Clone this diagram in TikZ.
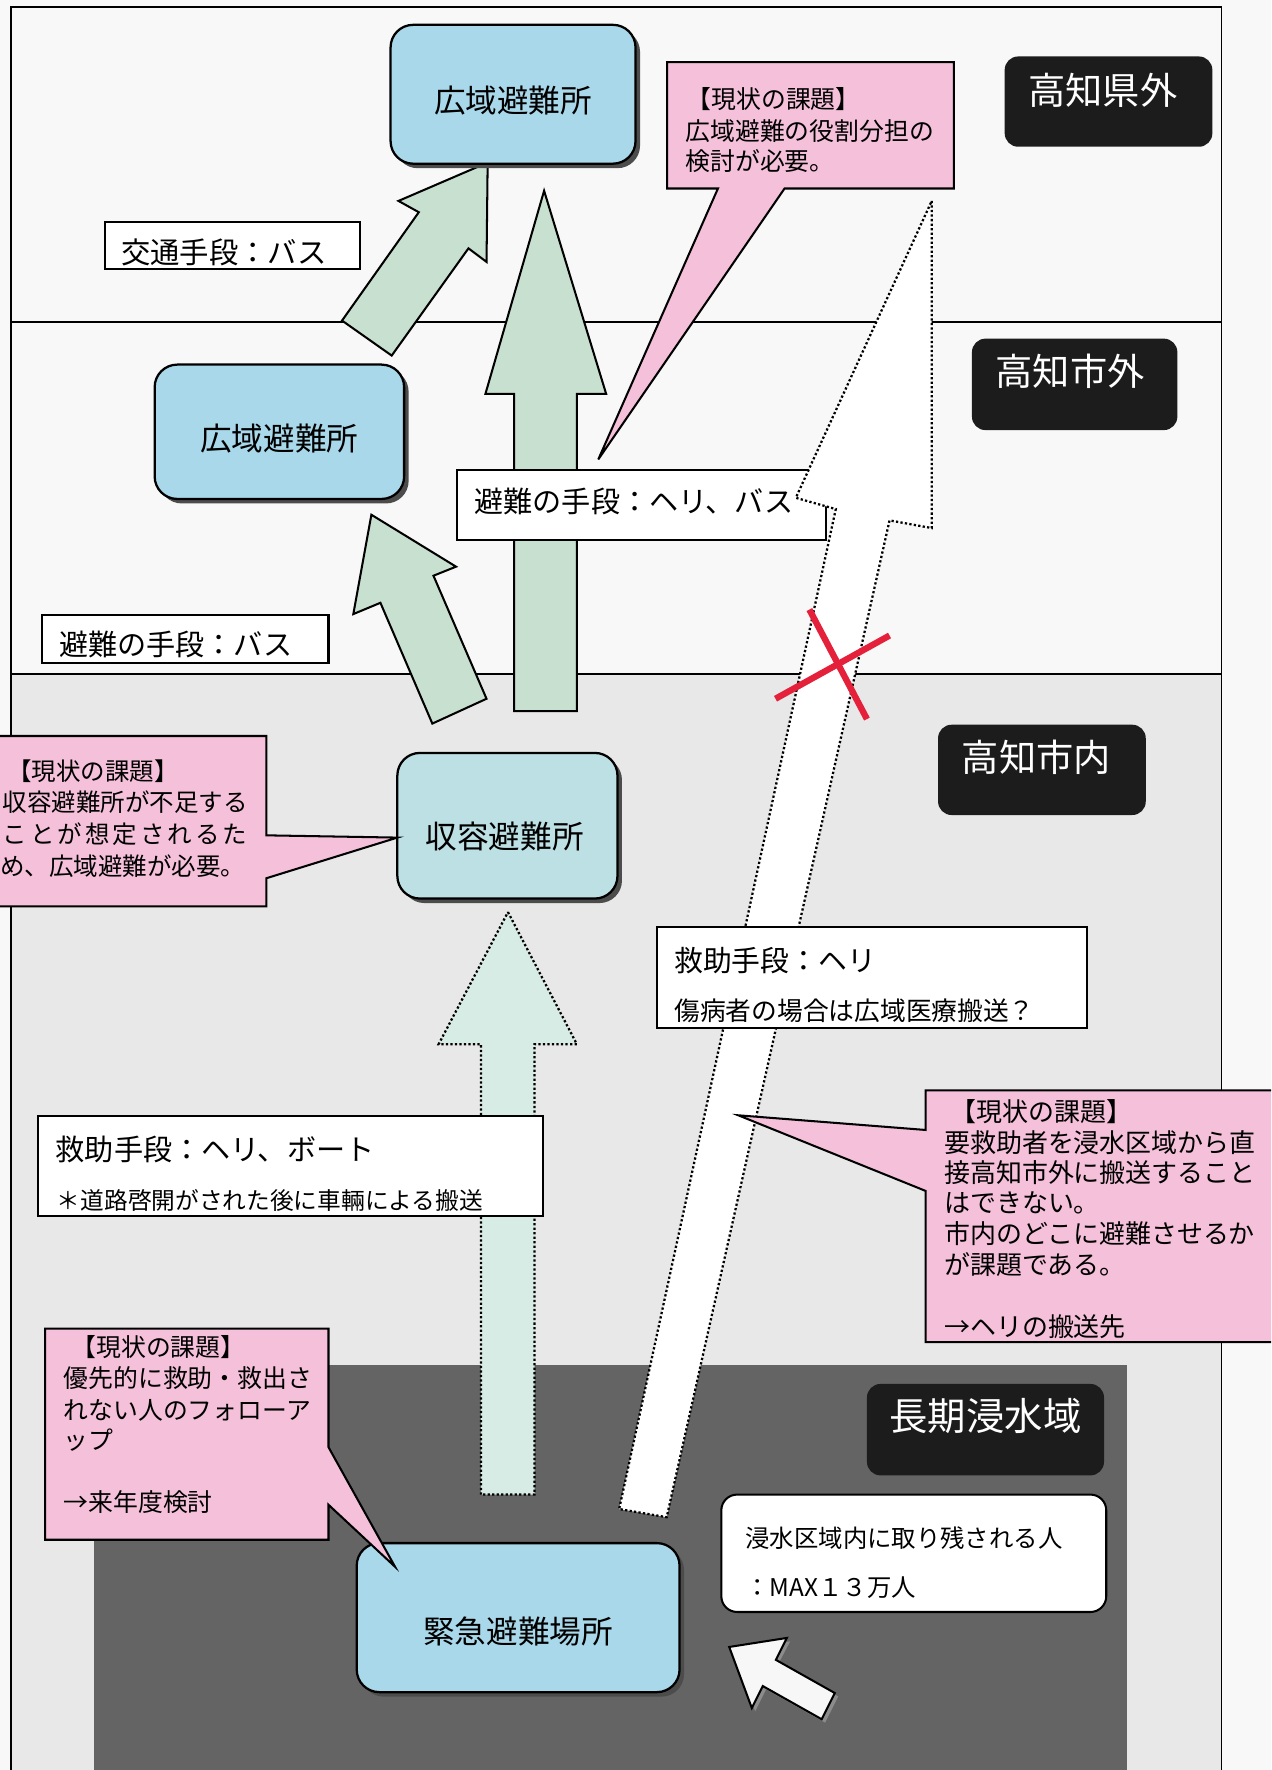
\documentclass[tikz,border=0pt]{standalone}
\usepackage{fontspec}
\setmainfont{Noto Sans CJK JP}
\usetikzlibrary{shadows}
\newcommand{\fsz}[1]{\fontsize{#1pt}{#1pt}\selectfont}
\definecolor{pagebg}{RGB}{248,248,248}
\definecolor{zoneLight}{RGB}{232,232,232}
\definecolor{zoneDark}{RGB}{100,100,100}
\definecolor{boxblue}{RGB}{168,216,234}
\definecolor{boxblueB}{RGB}{188,224,228}
\definecolor{arrowgreen}{RGB}{200,224,208}
\definecolor{dotgreen}{RGB}{214,236,228}
\definecolor{calloutpink}{RGB}{244,192,218}
\definecolor{labelblack}{RGB}{28,28,28}
\definecolor{xred}{RGB}{228,32,58}
\tikzset{
  frameline/.style={draw=black, line width=0.8pt},
  bluebox/.style={draw=black, line width=1pt, fill=boxblue, rounded corners=10pt,
    drop shadow={shadow xshift=2pt, shadow yshift=-2pt, fill=black!70, opacity=1}},
  plainbox/.style={draw=black, line width=0.9pt, fill=white},
  roundwhite/.style={draw=black, line width=0.9pt, fill=white, rounded corners=7pt},
  blacklabel/.style={fill=labelblack, rounded corners=6pt},
  callout/.style={draw=black, line width=0.9pt, fill=calloutpink, line join=miter},
  greenarrow/.style={draw=black, line width=0.9pt, fill=arrowgreen, line join=miter},
  dotarrow/.style={draw=black, line width=1pt, fill=dotgreen, densely dotted},
  boltarrow/.style={draw=black, line width=1pt, fill=white, densely dotted},
  hollowarrow/.style={draw=black, line width=0.9pt, fill=black!3, line join=miter},
  crossline/.style={draw=xred, line width=2.8pt},
  lab/.style={inner sep=0pt, anchor=west},
  ctr/.style={inner sep=0pt},
}
\begin{document}
\begin{tikzpicture}[x=0.5pt,y=-0.5pt]
\clip (0,0) rectangle (1126,1568);
\fill[pagebg] (0,0) rectangle (1126,1568);
% zones
\fill[zoneLight] (10,597) rectangle (1082,1580);
\fill[zoneDark] (83,1209) rectangle (998,1580);
\draw[frameline] (10,1580) -- (10,6) -- (1082,6) -- (1082,1580);
\draw[frameline] (10,285) -- (1082,285);
\draw[frameline] (10,597) -- (1082,597);

% green block arrows
\draw[greenarrow] (432,144) -- (431,232) -- (415,220) -- (347,315) -- (303,284) -- (371,188) -- (353,178) -- cycle;
\draw[greenarrow] (482,169) -- (537,349) -- (511,349) -- (511,630) -- (455.5,630) -- (455.5,349) -- (430,349) -- cycle;
\draw[greenarrow] (329,456) -- (404,502) -- (384,510) -- (431,619) -- (383,641) -- (337,534) -- (313,544) -- cycle;
\draw[dotarrow] (450,808) -- (511,925) -- (473.5,925) -- (473.5,1324) -- (426,1324) -- (426,925) -- (388.6,925) -- cycle;

% blue boxes
\node[bluebox, minimum width=108.5pt, minimum height=61.5pt] (koikiA) at (454.5,83.5) {};
\node[ctr, font=\fsz{14}] (koikiAt) at (454.5,89) {広域避難所};
\node[bluebox, minimum width=110.5pt, minimum height=59.5pt] (koikiB) at (247.5,382.5) {};
\node[ctr, font=\fsz{14}] (koikiBt) at (247.5,388.5) {広域避難所};
\node[bluebox, fill=boxblueB, minimum width=97.5pt, minimum height=64.5pt] (shuyo) at (449.5,731.5) {};
\node[ctr, font=\fsz{14}] (shuyot) at (447,741) {収容避難所};
\node[bluebox, minimum width=143pt, minimum height=66pt] (kinkyu) at (459,1433) {};
\node[ctr, font=\fsz{14}] (kinkyut) at (459,1445) {緊急避難場所};

% white label boxes
\node[plainbox, minimum width=113pt, minimum height=20.5pt] (kotsu) at (206,217.5) {};
\node[lab, font=\fsz{13}] (kotsut) at (107,224) {交通手段：バス};
\node[plainbox, minimum width=127pt, minimum height=21pt] (hinanA) at (164,566) {};
\node[lab, font=\fsz{12.9}] (hinanAt) at (52,571) {避難の手段：バス};
\node[plainbox, minimum width=163.5pt, minimum height=31pt] (hinanB) at (568.5,447) {};
\node[lab, font=\fsz{12.9}] (hinanBt) at (420,444) {避難の手段：ヘリ、バス};
\node[plainbox, minimum width=223.5pt, minimum height=44pt] (kyujoA) at (257.5,1033) {};
\node[lab, font=\fsz{12.9}] (kyujoAt) at (49,1018) {救助手段：ヘリ、ボート};
\node[lab, font=\fsz{10.5}] (kyujoAs) at (50,1063) {＊道路啓開がされた後に車輛による搬送};

% lightning arrow (rescue by helicopter, blocked)
\draw[boltarrow] (825.4,178) -- (825.4,467.8) -- (788,461) -- (590.6,1344) -- (548.5,1336.8) -- (740.4,451) -- (705,441) -- cycle;

\node[plainbox, minimum width=190.5pt, minimum height=45pt] (kyujoB) at (772.5,866) {};
\node[lab, font=\fsz{12.75}] (kyujoBt) at (597,851) {救助手段：ヘリ};
\node[lab, font=\fsz{11.4}] (kyujoBs) at (597,895) {傷病者の場合は広域医療搬送？};

% red cross
\draw[crossline] (717,540) -- (768,637);
\draw[crossline] (687,619) -- (788,563);

% zone labels
\node[blacklabel, minimum width=92pt, minimum height=40pt] (kengai) at (982,90) {};
\node[ctr, font=\fsz{16.5}, text=white] (kengait) at (977,80) {高知県外};
\node[blacklabel, minimum width=91pt, minimum height=40.5pt] (shigai) at (952,340.5) {};
\node[ctr, font=\fsz{16.5}, text=white] (shigait) at (948,329) {高知市外};
\node[blacklabel, minimum width=92pt, minimum height=40pt] (shinai) at (923,682) {};
\node[ctr, font=\fsz{16.5}, text=white] (shinait) at (918,671) {高知市内};
\node[blacklabel, minimum width=105pt, minimum height=40.5pt] (choki) at (873,1266.5) {};
\node[ctr, font=\fsz{17}, text=white] (chokit) at (873,1254) {長期浸水域};

% stranded people box
\node[roundwhite, minimum width=170.5pt, minimum height=52pt] (shinsui) at (809.5,1376) {};
\node[lab, font=\fsz{10.8}] (shinsuit) at (660,1363) {浸水区域内に取り残される人};
\node[lab, font=\fsz{10.8}] (shinsuis) at (660,1406) {：MAX１３万人};

% hollow arrow pointing to the shelter
\fill[black!45] (649,1462) -- (700,1454) -- (690,1473) -- (742.5,1502.8) -- (730.9,1526) -- (678.7,1496.6) -- (669,1516) -- cycle;
\draw[hollowarrow] (646,1459) -- (697,1451) -- (687.3,1470.4) -- (739.5,1499.8) -- (727.9,1523) -- (675.7,1493.6) -- (666,1513) -- cycle;

% callouts
\draw[callout] (591,55) -- (845,55) -- (845,167) -- (695,167) -- (530,407) -- (636,167) -- (591,167) -- cycle;
\node[lab, font=\fsz{11}] (cAa) at (608,88) {【現状の課題】};
\node[lab, font=\fsz{11}] (cAb) at (607,116) {広域避難の役割分担の};
\node[lab, font=\fsz{11}] (cAc) at (607,143) {検討が必要。};

\draw[callout] (-10,652) -- (236,652) -- (236,740) -- (352,742) -- (236,778) -- (236,803) -- (-10,803) -- cycle;
\node[lab, font=\fsz{10.85}] (cBa) at (6,683) {【現状の課題】};
\node[lab, font=\fsz{10.85}] (cBb) at (2,711) {収容避難所が不足する};
\node[lab, font=\fsz{10.85}] (cBc) at (2,739) {\hbox to 108.4pt{こ\hfil と\hfil が\hfil 想\hfil 定\hfil さ\hfil れ\hfil る\hfil た}};
\node[lab, font=\fsz{10.85}] (cBd) at (0,767) {め、広域避難が必要。};

\draw[callout] (820,966) -- (1140,966) -- (1140,1189) -- (820,1189) -- (820,1055) -- (654,988) -- (820,1001) -- cycle;
\node[lab, font=\fsz{11.5}] (cCa) at (842,985) {【現状の課題】};
\node[lab, font=\fsz{11.5}] (cCb) at (836,1012) {要救助者を浸水区域から直};
\node[lab, font=\fsz{11.5}] (cCc) at (836,1039) {接高知市外に搬送すること};
\node[lab, font=\fsz{11.5}] (cCd) at (836,1066) {はできない。};
\node[lab, font=\fsz{11.5}] (cCe) at (836,1093) {市内のどこに避難させるか};
\node[lab, font=\fsz{11.5}] (cCf) at (836,1120) {が課題である。};
\node[lab, font=\fsz{11.5}] (cCg) at (836,1175) {→ヘリの搬送先};

\draw[callout] (40,1177) -- (291,1177) -- (291,1282) -- (350,1388) -- (291,1333) -- (291,1364) -- (40,1364) -- cycle;
\node[lab, font=\fsz{11}] (cDa) at (63,1193) {【現状の課題】};
\node[lab, font=\fsz{11}] (cDb) at (56,1221) {優先的に救助・救出さ};
\node[lab, font=\fsz{11}] (cDc) at (56,1249) {れない人のフォローア};
\node[lab, font=\fsz{11}] (cDd) at (56,1276) {ップ};
\node[lab, font=\fsz{11}] (cDe) at (56,1331) {→来年度検討};
\end{tikzpicture}
\end{document}
